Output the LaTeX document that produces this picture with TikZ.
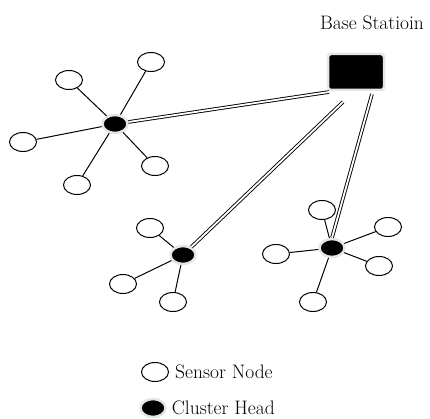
\documentclass[tikz,border=0pt]{standalone}
\usepackage{tikz}
\usetikzlibrary{positioning,shapes.geometric,calc}
\tikzset{
  sensor/.style ={draw, ellipse, line width=1pt, minimum width=27pt, minimum height=19pt, inner sep=0pt},
  head/.style   ={draw=gray!20, ellipse, fill=black, line width=2.5pt, minimum width=25pt, minimum height=18pt, inner sep=0pt},
  base/.style   ={draw=gray!20, rectangle, fill=black, rounded corners=3pt, line width=2.5pt, minimum width=56pt, minimum height=36pt},
  lnk/.style    ={line width=1pt},
  dbl/.style    ={double, double distance=1.8pt, line width=0.9pt},
  lbl/.style    ={font=\fontsize{19.5}{21}\selectfont, inner sep=0pt},
}
\begin{document}
\begin{tikzpicture}[x=1pt, y=-1pt]
  \useasboundingbox (0,0) rectangle (430,419);

  % base station
  \node[base] (bs) at (356,72) {};
  \node[lbl] (bslbl) at (372,23) {Base Statioin};
  \coordinate (bsa) at (329,92);
  \coordinate (bsb) at (343,102);
  \coordinate (bsc) at (372,94);

  % cluster 1
  \node[head] (h1) at (115,124) {};
  \node[sensor] (s11) at (151,62) {};
  \node[sensor] (s12) at (69,80) {};
  \node[sensor] (s13) at (23,142) {};
  \node[sensor] (s14) at (77,185) {};
  \node[sensor] (s15) at (155,166) {};

  % cluster 2
  \node[head] (h2) at (183,255) {};
  \node[sensor] (s21) at (150,228) {};
  \node[sensor] (s22) at (123,284) {};
  \node[sensor] (s23) at (173,302) {};

  % cluster 3
  \node[head] (h3) at (332,248) {};
  \node[sensor] (s31) at (322,210) {};
  \node[sensor] (s32) at (388,227) {};
  \node[sensor] (s33) at (276,254) {};
  \node[sensor] (s34) at (379,266) {};
  \node[sensor] (s35) at (313,302) {};

  \foreach \s in {s11,s12,s13,s14,s15} \draw[lnk] (h1) -- (\s);
  \foreach \s in {s21,s22,s23} \draw[lnk] (h2) -- (\s);
  \foreach \s in {s31,s32,s33,s34,s35} \draw[lnk] (h3) -- (\s);

  % links to base
  \draw[dbl] (h1) -- (bsa);
  \draw[dbl] (h2) -- (bsb);
  \draw[dbl] (h3.north) -- (bsc);

  % legend
  \node[sensor] (lgs) at (155,372) {};
  \node[lbl, right=6pt of lgs] (lgstxt) {Sensor Node};
  \node[head] (lgh) at (153,408) {};
  \node[lbl, right=5pt of lgh] (lghtxt) {Cluster Head};
\end{tikzpicture}
\end{document}
